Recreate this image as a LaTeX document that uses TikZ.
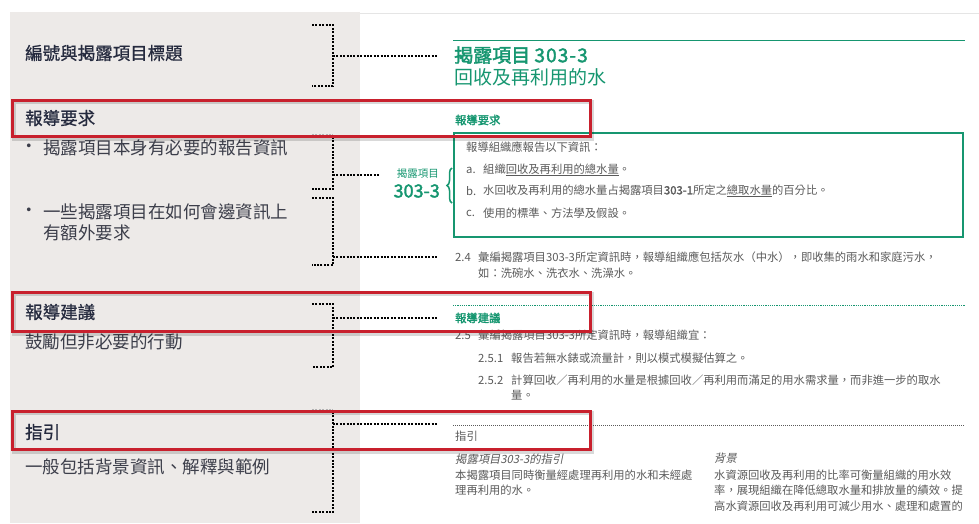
\documentclass[tikz,border=0pt]{standalone}
\usepackage{fontspec}
\setmainfont[AutoFakeBold = 2 , AutoFakeSlant = 0.2]{Noto Sans CJK TC}
\newfontfamily\headfont[FakeBold = 0.8]{Noto Sans CJK TC}
\usepackage{tikz}
\usetikzlibrary{decorations.pathreplacing}

\definecolor{panelgray}{RGB}{237,234,232}
\definecolor{navy}{RGB}{37,42,62}
\definecolor{leftgray}{RGB}{60,62,74}
\definecolor{txtgray}{RGB}{90,90,90}
\definecolor{griGreen}{RGB}{22,150,112}
\definecolor{boxred}{RGB}{200,32,45}

\tikzset{
    lefthead/.style = {anchor = west , inner sep = 0pt , text = navy , font = \fontsize{17.5}{21}\selectfont\headfont},
    lefttext/.style = {anchor = west , inner sep = 0pt , text = leftgray , font = \fontsize{17.5}{21}\selectfont},
    smalltext/.style = {anchor = west , inner sep = 0pt , text = txtgray , font = \fontsize{11.3}{14}\selectfont},
    greenhead/.style = {anchor = west , inner sep = 0pt , text = griGreen , font = \fontsize{11.3}{14}\selectfont\bfseries},
    redbox/.style = {draw = boxred , line width = 3pt},
    boxshadow/.style = {draw = black , opacity = 0.15 , line width = 4pt},
    dotline/.style = {line width = 2pt , dash pattern = on 2pt off 1.4pt},
}

\begin{document}
\begin{tikzpicture}[x = 1pt , y = -1pt]
    \useasboundingbox (0,0) rectangle (979,523);
    \fill[panelgray] (10,12) rectangle (360,523); % 左側灰底
    \draw[black!10] (360,13) -- (979,13); % 頁面上緣

    % 左側說明
    \node[lefthead] (numtitle) at (25,53) {編號與揭露項目標題};
    \node[lefthead] (reqhead) at (25,118) {報導要求};
    \node[lefttext , anchor = center] (bul1) at (29,148) {•};
    \node[lefttext] (req1) at (43,148) {揭露項目本身有必要的報告資訊};
    \node[lefttext , anchor = center] (bul2) at (29,212) {•};
    \node[lefttext] (req2) at (43,212) {一些揭露項目在如何會邊資訊上};
    \node[lefttext] (req2b) at (43,233) {有額外要求};
    \node[lefthead] (rechead) at (25,312) {報導建議};
    \node[lefttext] (rec1) at (25,342) {鼓勵但非必要的行動};
    \node[lefthead] (guidehead) at (25,432) {指引};
    \node[lefttext] (guide1) at (25,467) {一般包括背景資訊、解釋與範例};

    % 右側頁面
    \draw[griGreen , line width = 1pt] (453,40) -- (965,40);
    \node[anchor = west , inner sep = 0pt , text = griGreen , font = \fontsize{19}{23}\selectfont\bfseries] (title) at (454,55) {揭露項目 {\addfontfeature{LetterSpace = 6}303-3}};
    \node[anchor = west , inner sep = 0pt , text = griGreen , font = \fontsize{19}{23}\selectfont] (subtitle) at (454,77) {回收及再利用的水};

    \node[greenhead] (reqsec) at (455,120) {報導要求};
    \draw[griGreen , line width = 2pt] (454,133) rectangle (963,237);
    \node[smalltext] (intro) at (466,147) {報導組織應報告以下資訊：};
    \node[smalltext] (la) at (466,170) {a.};
    \node[smalltext] (ia) at (483,170) {組織\underline{回收及再利用的總水量}。};
    \node[smalltext] (lb) at (466,191) {b.};
    \node[smalltext] (ib) at (483,191) {水回收及再利用的總水量占揭露項目\textbf{303-1}所定之\underline{總取水量}的百分比。};
    \node[smalltext] (lc) at (466,213) {c.};
    \node[smalltext] (ic) at (483,213) {使用的標準、方法學及假設。};

    \draw[griGreen , line width = 1.5pt , decorate , decoration = {brace , amplitude = 5pt}] (452,203) -- (452,168);
    \node[anchor = east , inner sep = 0pt , text = griGreen , font = \fontsize{10.5}{13}\selectfont] (dlabel) at (439,174) {揭露項目};
    \node[anchor = east , inner sep = 0pt , text = griGreen , font = \fontsize{18}{22}\selectfont\bfseries] (dnum) at (440,191) {303-3};

    \node[smalltext] (n24) at (455,257) {2.4};
    \node[smalltext] (t24) at (478,257) {彙編揭露項目303-3所定資訊時，報導組織應包括灰水（中水），即收集的雨水和家庭污水，};
    \node[smalltext] (t24b) at (478,273) {如：洗碗水、洗衣水、洗澡水。};

    \draw[griGreen , line width = 1pt , dash pattern = on 1.2pt off 1pt] (453,305) -- (965,305);
    \node[greenhead] (recsec) at (455,318) {報導建議};
    \node[smalltext] (n25) at (455,335) {2.5};
    \node[smalltext] (t25) at (478,335) {彙編揭露項目303-3所定資訊時，報導組織宜：};
    \node[smalltext] (n251) at (478,358) {2.5.1};
    \node[smalltext] (t251) at (511,358) {報告若無水錶或流量計，則以模式模擬估算之。};
    \node[smalltext] (n252) at (478,380) {2.5.2};
    \node[smalltext] (t252) at (511,380) {計算回收／再利用的水量是根據回收／再利用而滿足的用水需求量，而非進一步的取水};
    \node[smalltext] (t252b) at (511,395) {量。};

    \draw[txtgray , line width = 0.8pt , dash pattern = on 1pt off 1pt] (453,425) -- (965,425);
    \node[smalltext] (guidesec) at (455,436) {指引};
    \node[smalltext , font = \fontsize{11.3}{14}\selectfont\itshape] (gtitle) at (455,459) {揭露項目303-3的指引};
    \node[smalltext] (g1) at (455,475) {本揭露項目同時衡量經處理再利用的水和未經處};
    \node[smalltext] (g2) at (455,490) {理再利用的水。};
    \node[smalltext , font = \fontsize{11.3}{14}\selectfont\itshape] (btitle) at (714,458) {背景};
    \node[smalltext] (bg1) at (714,475) {水資源回收及再利用的比率可衡量組織的用水效};
    \node[smalltext] (bg2) at (714,490) {率，展現組織在降低總取水量和排放量的績效。提};
    \node[smalltext] (bg3) at (714,506) {高水資源回收及再利用可減少用水、處理和處置的};

    % 點線括號
    \coordinate (tip1) at (437,56);
    \coordinate (tip2) at (380,175);
    \coordinate (tip3) at (437,257);
    \coordinate (tip4) at (437,318);
    \coordinate (tip5) at (437,424);
    \draw[dotline] (312,25) -- (333,25) -- (333,86) -- (312,86);
    \draw[dotline] (333,56) -- (tip1);
    \draw[dotline , black!30] (312,135) -- (333,135);
    \draw[dotline] (333,137) -- (333,189) -- (312,189);
    \draw[dotline] (333,175) -- (tip2);
    \draw[dotline] (312,198) -- (333,198) -- (333,265) -- (312,265);
    \draw[dotline] (333,257) -- (tip3);
    \draw[dotline] (312,304) -- (333,304) -- (333,367) -- (312,367);
    \draw[dotline] (333,318) -- (tip4);
    \draw[dotline , black!30] (312,410) -- (333,410);
    \draw[dotline] (333,412) -- (333,512) -- (312,512);
    \draw[dotline] (333,424) -- (tip5);

    % 紅框
    \draw[boxshadow] (14,102) rectangle (592,139);
    \draw[redbox] (12,100) rectangle (590,136);
    \draw[boxshadow] (14,294) rectangle (592,334);
    \draw[redbox] (12,292) rectangle (590,331);
    \draw[boxshadow] (14,413) rectangle (592,452);
    \draw[redbox] (12,411) rectangle (590,449);
\end{tikzpicture}
\end{document}
